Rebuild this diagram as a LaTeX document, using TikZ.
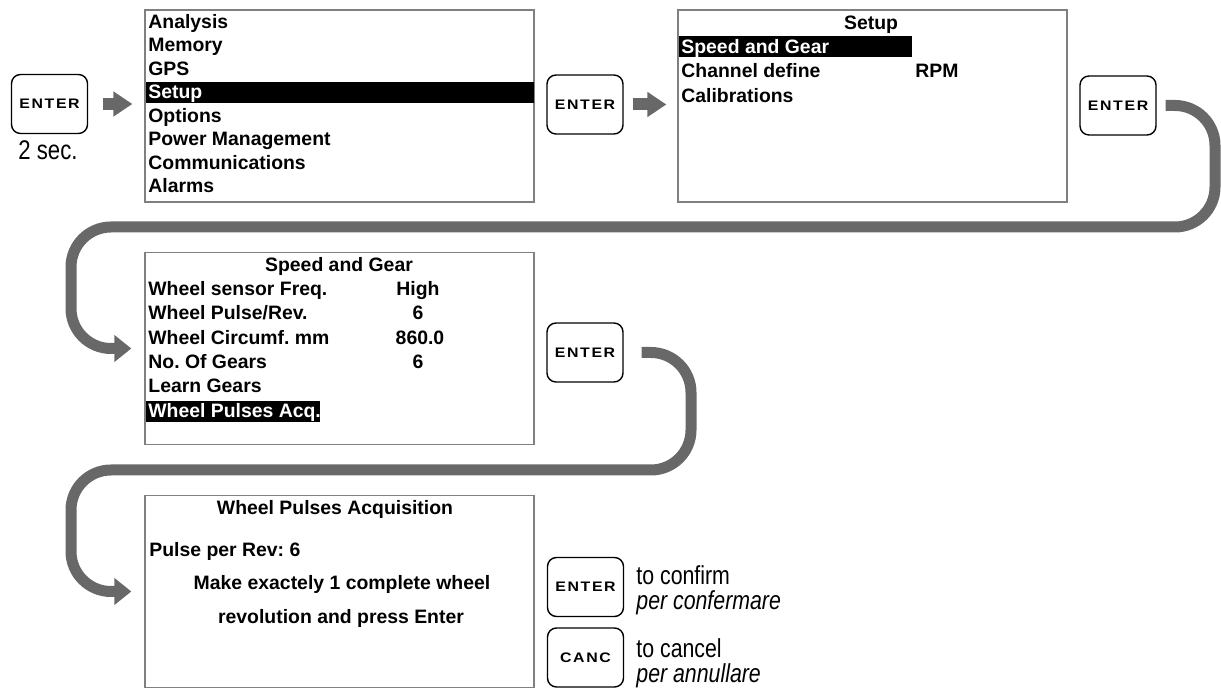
\documentclass[tikz,border=0pt]{standalone}
\usepackage{fontspec}
\setmainfont{Liberation Sans}
\newfontfamily\keyfont[FakeStretch=1.15,LetterSpace=12]{Liberation Sans}
\newfontfamily\narrowfont[FakeStretch=0.82]{Liberation Sans}
\usetikzlibrary{arrows.meta}
\definecolor{framegray}{RGB}{128,128,128}
\definecolor{arrowgray}{RGB}{104,104,104}
\newcommand\menufont{\fontsize{9.7pt}{11pt}\selectfont\bfseries}
\frenchspacing
\tikzset{
  screen/.style={draw=framegray, line width=0.65pt, minimum width=194.5pt,
    minimum height=96pt, inner sep=0pt},
  key/.style={draw=black, line width=0.7pt, rounded corners=4.5pt,
    minimum width=38pt, minimum height=29.5pt, inner sep=0pt,
    font=\keyfont\bfseries\fontsize{6.9pt}{8pt}\selectfont},
  item/.style={anchor=base west, inner sep=0pt, font=\menufont},
  title/.style={anchor=base, inner sep=0pt, font=\menufont},
  chosen/.style={item, text=white},
  hint/.style={anchor=base west, inner sep=0pt,
    font=\narrowfont\fontsize{13pt}{15pt}\selectfont},
  flow/.style={draw=arrowgray, line width=5.5pt, rounded corners=20pt,
    -{Triangle[length=8.5pt,width=13pt]}},
  nextarrow/.style={draw=arrowgray, line width=6pt,
    -{Triangle[length=9.5pt,width=12pt]}},
}
\begin{document}
\begin{tikzpicture}[x=0.5pt, y=-0.5pt]
\useasboundingbox (0,0) rectangle (1221,688);

% ---------- screens ----------
\node[screen] (box1) at (339.5,106) {};
\node[screen] (box2) at (872.5,106) {};
\node[screen] (box3) at (339.5,348.5) {};
\node[screen] (box4) at (339.5,591.5) {};

% ---------- keys ----------
\node[key] (b1) at (49.5,104) {ENTER};
\node[key] (b2) at (585,104.5) {ENTER};
\node[key] (b3) at (1118,105.5) {ENTER};
\node[key] (b4) at (585,352.5) {ENTER};
\node[key] (b5) at (585.5,587) {ENTER};
\node[key] (b6) at (585.5,657.5) {CANC};

\node[anchor=base, inner sep=0pt, font=\narrowfont\fontsize{13.5pt}{15pt}\selectfont]
  (hold) at (48,160) {2 sec.};

% ---------- main menu ----------
\fill[black] (145.5,82) rectangle (533.5,103);
\node[item] (m1) at (148,28.5) {Analysis};
\node[item] (m2) at (148,52) {Memory};
\node[item] (m3) at (148,75.5) {GPS};
\node[chosen] (m4) at (148,99) {Setup};
\node[item] (m5) at (148,122.5) {Options};
\node[item] (m6) at (148,146) {Power Management};
\node[item] (m7) at (148,169.5) {Communications};
\node[item] (m8) at (148,193) {Alarms};

% ---------- setup menu ----------
\fill[black] (678.5,36) rectangle (912,57);
\node[title] (s0) at (871,30) {Setup};
\node[chosen] (s1) at (681,54) {Speed and Gear};
\node[item] (s2) at (681,78) {Channel define};
\node[item] (s2v) at (915,78) {RPM};
\node[item] (s3) at (681,102.5) {Calibrations};

% ---------- speed and gear ----------
\fill[black] (146,401) rectangle (320,422);
\node[title] (g0) at (339,272) {Speed and Gear};
\node[item] (g1) at (148,296) {Wheel sensor Freq.};
\node[title] (g1v) at (418,296) {High};
\node[item] (g2) at (148,320) {Wheel Pulse/Rev.};
\node[title] (g2v) at (418,320) {6};
\node[item] (g3) at (148,345) {Wheel Circumf. mm};
\node[title] (g3v) at (420,345) {860.0};
\node[item] (g4) at (148,369) {No. Of Gears};
\node[title] (g4v) at (418,369) {6};
\node[item] (g5) at (148,393) {Learn Gears};
\node[chosen] (g6) at (148,418) {Wheel Pulses Acq.};

% ---------- acquisition ----------
\node[title] (a0) at (335,515) {Wheel Pulses Acquisition};
\node[item] (a1) at (149,557) {Pulse per Rev: 6};
\node[title] (a2) at (342,590) {Make exactely 1 complete wheel};
\node[title] (a3) at (341,624) {revolution and press Enter};

% ---------- key hints ----------
\node[hint] (h1) at (636,585) {to confirm};
\node[hint] (h2) at (636,610) {\itshape per confermare};
\node[hint] (h3) at (636,658) {to cancel};
\node[hint] (h4) at (636,683) {\itshape per annullare};

% ---------- connectors ----------
\coordinate (c1) at (1215,227);
\coordinate (c2) at (71,227);
\coordinate (c3) at (691,470);
\coordinate (c4) at (71,470);

\draw[nextarrow] ([xshift=7.5pt]b1.east) -- ([xshift=-6pt]box1.west |- b1.east);
\draw[nextarrow] ([xshift=4.5pt]b2.east) -- ([xshift=-5.5pt]box2.west |- b2.east);
\draw[flow] ([xshift=4.5pt]b3.east) -| (c1) -- (c2) |- ([xshift=-6.5pt]box3.west);
\draw[flow] ([xshift=9pt]b4.east) -| (c3) -- (c4) |- ([xshift=-6.5pt]box4.west);
\end{tikzpicture}
\end{document}
